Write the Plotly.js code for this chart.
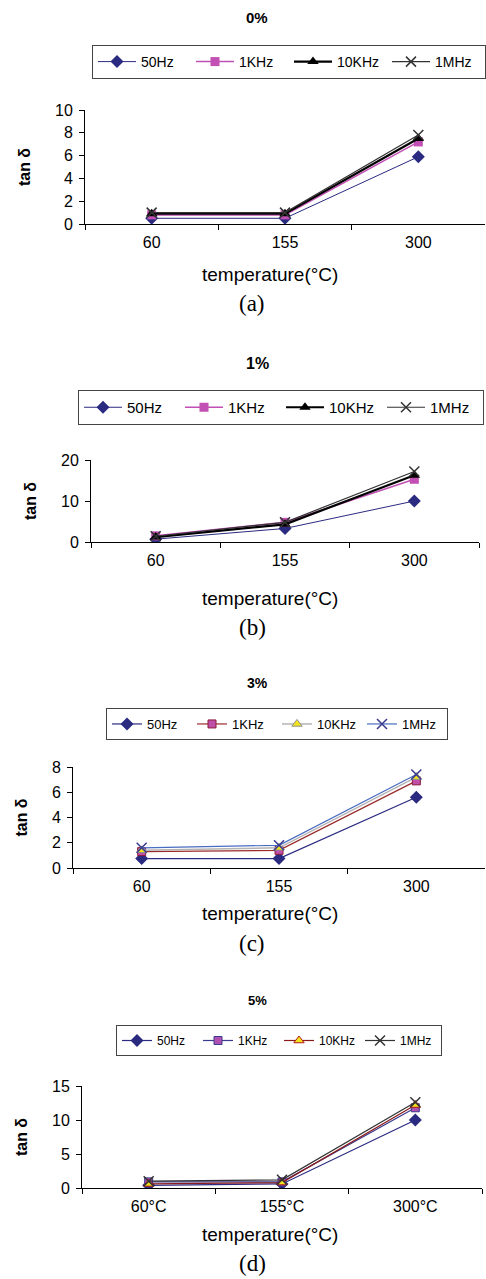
<!DOCTYPE html>
<html><head><meta charset="utf-8">
<script src="https://cdn.plot.ly/plotly-3.0.1.min.js"></script>
<style>html,body{margin:0;padding:0;background:#fff}#chart{width:486px;height:1279px}</style>
</head><body><div id="chart"></div>
<script>
// ---- data ----
const temps = ['60', '155', '300'];
const tempsD = ['60°C', '155°C', '300°C'];
const seriesNames = ['50Hz', '1KHz', '10KHz', '1MHz'];
const panelTitles = ['0%', '1%', '3%', '5%'];
const captions = ['(a)', '(b)', '(c)', '(d)'];
const xTitle = 'temperature(°C)';
const yTitle = 'tan δ';

const a50 = [0.5, 0.5, 5.9];
const a1k = [0.8, 0.8, 7.2];
const a10k = [0.9, 0.9, 7.5];
const a1m = [1.0, 1.0, 7.8];

const b50 = [0.7, 3.3, 10.0];
const b1k = [1.5, 4.8, 15.3];
const b10k = [1.2, 4.3, 16.3];
const b1m = [1.4, 4.8, 17.2];

const c50 = [0.75, 0.75, 5.6];
const c1k = [1.3, 1.4, 6.9];
const c10k = [1.4, 1.6, 7.2];
const c1m = [1.6, 1.8, 7.4];

const d50 = [0.4, 0.6, 10.0];
const d1k = [0.9, 0.9, 11.8];
const d10k = [0.6, 0.8, 12.2];
const d1m = [1.0, 1.2, 12.6];

// ---- styles ----
const W = 486, H = 1279;
const px = v => v / W;
const py = v => 1 - v / H;
const FONT = 'Liberation Sans, Arial, sans-serif';
const SERIF = 'Liberation Serif, Times New Roman, serif';

const navy = '#2a2a80';
const stylesAB = [
  {line: {color: navy, width: 1}, marker: {symbol: 'diamond', size: 10, color: navy}},
  {line: {color: '#c24fb4', width: 1.5}, marker: {symbol: 'square', size: 9, color: '#c24fb4'}},
  {line: {color: '#000000', width: 2.2}, marker: {symbol: 'triangle-up', size: 10, color: '#000000'}},
  {line: {color: '#333333', width: 1.2}, marker: {symbol: 'x-thin', size: 10, color: '#333333', line: {width: 1.5, color: '#333333'}}}
];
const stylesC = [
  {line: {color: navy, width: 1.2}, marker: {symbol: 'diamond', size: 10, color: navy}},
  {line: {color: '#9b2a2a', width: 1.2}, marker: {symbol: 'square', size: 8, color: '#c04fa8', line: {width: 1, color: '#8b1a3a'}}},
  {line: {color: '#b4b4b4', width: 1.5}, marker: {symbol: 'triangle-up', size: 9, color: '#f2e41c', line: {width: 1, color: '#909090'}}},
  {line: {color: '#4a6cc0', width: 1.2}, marker: {symbol: 'x-thin', size: 10, color: '#3a3a90', line: {width: 1.5, color: '#3a3a90'}}}
];
const stylesD = [
  {line: {color: navy, width: 1.2}, marker: {symbol: 'diamond', size: 10, color: navy}},
  {line: {color: '#3a3a90', width: 1.2}, marker: {symbol: 'square', size: 8, color: '#b050b0', line: {width: 1, color: '#3a3a90'}}},
  {line: {color: '#8b1a1a', width: 1.2}, marker: {symbol: 'triangle-up', size: 9, color: '#f2e41c', line: {width: 1, color: '#b01a1a'}}},
  {line: {color: '#333333', width: 1.2}, marker: {symbol: 'x-thin', size: 10, color: '#333333', line: {width: 1.5, color: '#333333'}}}
];

const panels = [
  {cats: temps, ys: [a50, a1k, a10k, a1m], st: stylesAB, legFont: 14},
  {cats: temps, ys: [b50, b1k, b10k, b1m], st: stylesAB, legFont: 15},
  {cats: temps, ys: [c50, c1k, c10k, c1m], st: stylesC, legFont: 13},
  {cats: tempsD, ys: [d50, d1k, d10k, d1m], st: stylesD, legFont: 12}
];

// geometry (pixels): legend [left, top, entrywidth, itemwidth]
const geo = [
  {x0: 85, x1: 485, y0: 110, y1: 224, yr: [0, 10], dt: 2, title: 17, cap: 303, leg: [92, 45, 45, 38], ystand: 20},
  {x0: 91, x1: 479, y0: 460, y1: 542, yr: [0, 20], dt: 10, title: 363, cap: 627, leg: [78, 390, 48, 38], ystand: 20},
  {x0: 73, x1: 485, y0: 767, y1: 868, yr: [0, 8], dt: 2, title: 683, cap: 943, leg: [106, 708, 40, 30], ystand: 20},
  {x0: 82, x1: 482, y0: 1086, y1: 1188, yr: [0, 15], dt: 5, title: 1000, cap: 1263, leg: [116, 1025, 36, 30], ystand: 20}
];

const data = [];
const layout = {
  width: W, height: H,
  margin: {l: 0, r: 0, t: 0, b: 0},
  paper_bgcolor: '#ffffff', plot_bgcolor: '#ffffff',
  font: {family: FONT, color: '#000000'},
  showlegend: true,
  annotations: []
};

panels.forEach((p, i) => {
  const g = geo[i];
  const n = i + 1;
  const xa = n === 1 ? 'x' : 'x' + n;
  const ya = n === 1 ? 'y' : 'y' + n;
  const legId = n === 1 ? 'legend' : 'legend' + n;
  p.ys.forEach((ys, k) => {
    data.push(Object.assign({
      type: 'scatter', mode: 'lines+markers',
      x: p.cats, y: ys, name: seriesNames[k],
      xaxis: xa, yaxis: ya, legend: legId
    }, JSON.parse(JSON.stringify(p.st[k]))));
  });
  layout[n === 1 ? 'xaxis' : 'xaxis' + n] = {
    domain: [px(g.x0), px(g.x1)], anchor: ya,
    type: 'category', range: [-0.5, 2.5], tickson: 'boundaries',
    ticks: 'outside', ticklen: 5, tickcolor: '#000', tickwidth: 1,
    showline: true, linecolor: '#000', linewidth: 1,
    showgrid: false, zeroline: false, fixedrange: true,
    tickfont: {family: FONT, size: 16, color: '#000'},
    ticklabelstandoff: 4
  };
  layout[n === 1 ? 'yaxis' : 'yaxis' + n] = {
    domain: [py(g.y1), py(g.y0)], anchor: xa,
    range: g.yr, dtick: g.dt, tick0: 0,
    ticks: 'outside', ticklen: 5, tickcolor: '#000', tickwidth: 1,
    showline: true, linecolor: '#000', linewidth: 1,
    showgrid: false, zeroline: false, fixedrange: true,
    tickfont: {family: FONT, size: 16, color: '#000'},
    ticklabelstandoff: 3,
    title: {text: yTitle, font: {family: FONT, size: 16, weight: 'bold', color: '#000'}, standoff: g.ystand}
  };
  layout[legId] = {
    orientation: 'h', x: px(g.leg[0]), y: py(g.leg[1]),
    xanchor: 'left', yanchor: 'top',
    bordercolor: '#444', borderwidth: 1, bgcolor: '#fff',
    font: {family: FONT, size: p.legFont, color: '#000'},
    entrywidth: g.leg[2], entrywidthmode: 'pixels', itemwidth: g.leg[3],
    traceorder: 'normal'
  };
  layout.annotations.push({
    text: '<b>' + panelTitles[i] + '</b>', xref: 'paper', yref: 'paper',
    x: px(257), y: py(g.title), xanchor: 'center', yanchor: 'middle', showarrow: false,
    font: {family: FONT, size: [15, 16, 14, 13][i], color: '#000'}
  });
  layout.annotations.push({
    text: xTitle, xref: 'paper', yref: 'paper',
    x: px(270), y: py(g.cap - 29), xanchor: 'center', yanchor: 'middle', showarrow: false,
    font: {family: FONT, size: 19, color: '#000'}
  });
  layout.annotations.push({
    text: captions[i], xref: 'paper', yref: 'paper',
    x: px(252), y: py(g.cap), xanchor: 'center', yanchor: 'middle', showarrow: false,
    font: {family: SERIF, size: 23, color: '#000'}
  });
});

Plotly.newPlot('chart', data, layout, {staticPlot: true, displayModeBar: false});
</script>
</body></html>
